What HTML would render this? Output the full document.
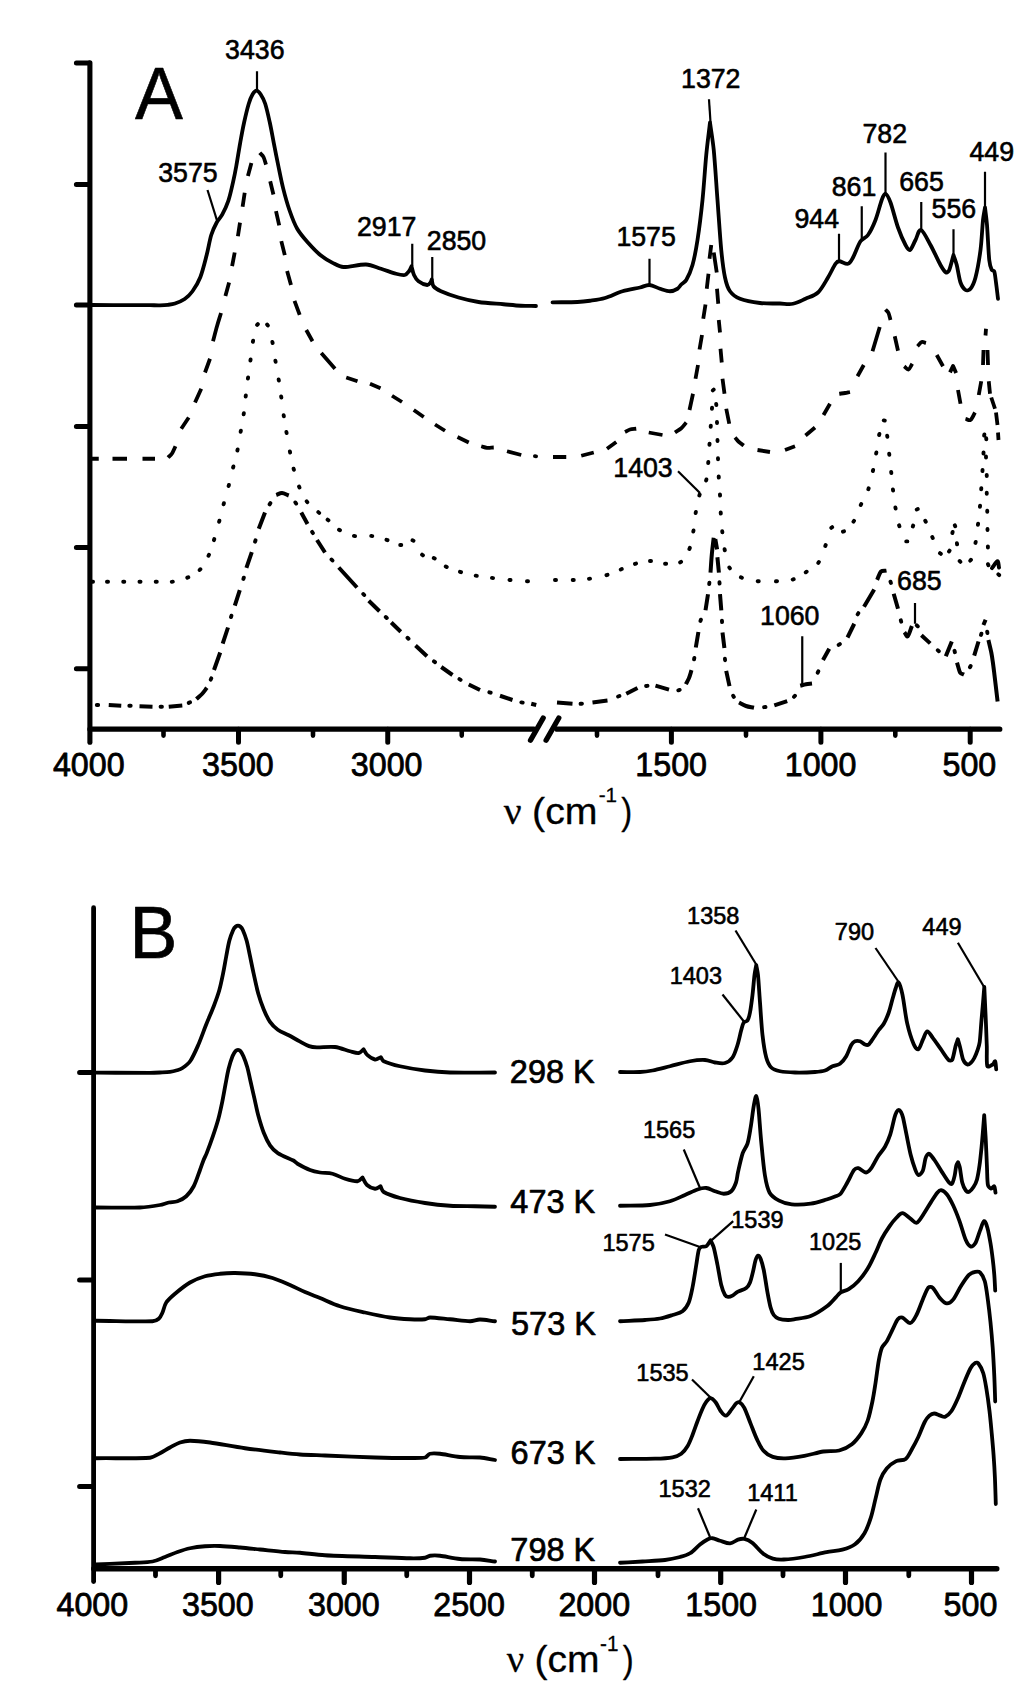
<!DOCTYPE html>
<html lang="en">
<head>
<meta charset="utf-8">
<title>IR spectra</title>
<style>
html,body{margin:0;padding:0;background:#fff}
svg{display:block}
text{font-family:"Liberation Sans", sans-serif;fill:#000;stroke:#000;stroke-width:0.0;stroke-linejoin:round}
.nu{font-family:"Liberation Serif", serif}
.ax{stroke:#000;fill:none;stroke-linecap:round}
.cv{stroke:#000;fill:none;stroke-linecap:round;stroke-linejoin:round}
.ld{stroke:#000;fill:none;stroke-linecap:butt}
</style>
</head>
<body>
<svg width="1024" height="1688" viewBox="0 0 1024 1688" role="img" aria-label="IR spectra, panels A and B">
<rect width="1024" height="1688" fill="#fff"/>
<g id="axes">
<path class="ax" stroke-width="5.1" d="M89.9 62.7V742.3"/>
<path class="ax" stroke-width="5.0" d="M76.4 62.9H89M76.4 184.4H89M76.4 305H89M76.4 426.6H89M76.4 547.5H89M76.4 668.75H89"/>
<path class="ax" stroke-width="5.2" d="M89.9 729.2H534M557 729.2H999.8"/>
<path class="ax" stroke-width="5.0" d="M238.5 729.3V742.3M387.75 729.3V742.3M671.4 729.3V742.3M820.9 729.3V742.3M970.2 729.3V742.3"/>
<path class="ax" stroke-width="4.6" d="M163.5 729.3V735.6M313 729.3V735.6M461.75 729.3V735.6M597 729.3V735.6M746 729.3V735.6M895.3 729.3V735.6"/>
<path class="ax" stroke-width="5.3" d="M530.5 740.2L543.2 718M546.1 740.2L558.8 718"/>
<path class="ax" stroke-width="4.8" d="M93.6 907.7V1581.6"/>
<path class="ax" stroke-width="5.0" d="M79.6 1072.6H93M79.6 1280H93M79.6 1486.5H93"/>
<path class="ax" stroke-width="5.4" d="M93.75 1568.8H996.8"/>
<path class="ax" stroke-width="5.2" d="M218.6 1568.9V1582.4M344.25 1568.9V1582.4M469.5 1568.9V1582.4M594.5 1568.9V1582.4M720.7 1568.9V1582.4M845.5 1568.9V1582.4M971.5 1568.9V1582.4"/>
<path class="ax" stroke-width="4.8" d="M155.5 1568.9V1575.8M280.75 1568.9V1575.8M406.75 1568.9V1575.8M532.25 1568.9V1575.8M658 1568.9V1575.8M783 1568.9V1575.8M908.8 1568.9V1575.8"/>
</g>
<g id="curves">
<path id="A1L" class="cv" stroke-width="3.8" d="M92 305C111.33 305.07 138.67 305.15 150 305.2C153.33 305.21 157 305.37 160 305.3C162.67 305.24 165.5 305.1 168 304.8C170.36 304.52 172.76 304.28 175 303.5C177.78 302.53 181.78 301.04 184.7 299C187.62 296.96 190.37 294.23 192.5 291.25C195.1 287.62 198.34 282.19 200.3 277.2C202.65 271.21 204.78 262.33 206.6 255.3C208.34 248.58 209.57 240.47 211.25 235C212.59 230.66 214.88 225.88 216.7 222.5C218.21 219.7 220.7 217.51 222.2 214.7C224.15 211.05 226.78 205.47 228.4 200.6C230.22 195.13 231.79 187.62 233.1 181.9C234.29 176.71 235.3 171.49 236.25 166.25C237.43 159.73 238.89 150.09 240.2 142.8C241.42 136.02 242.67 129.01 244.1 122.5C245.48 116.21 247.35 108.42 248.75 103.75C249.71 100.56 251.19 96.69 252.5 94.5C253.47 92.88 255.25 90.63 256.6 90.6C257.95 90.57 259.61 92.78 260.6 94.3C262.03 96.49 264.11 100.42 265.2 103.75C266.73 108.45 268.42 116.21 269.8 122.5C271.23 129.01 272.42 136.04 273.75 142.8C275.18 150.09 276.84 158.7 278.4 166.25C279.91 173.55 281.28 180.87 283.1 188.1C284.93 195.39 287.05 203.22 289.4 210C291.62 216.4 294.08 223.28 297.2 228.75C300.14 233.9 304.2 238.38 308.1 242.8C312 247.22 316.43 251.92 320.6 255.3C324.41 258.4 329.28 261.15 333.1 263.1C336.4 264.78 339.8 266.84 343.5 267C348.98 267.23 359.75 264.21 366 264.5C371.19 264.74 376.03 267.22 381 268.75C386 270.29 392.04 272.71 396 273.75C398.85 274.5 402.58 275.42 404.75 275C406.61 274.64 407.88 272.71 409 271.25C410.12 269.79 410.67 267.92 411.5 266.25C412.33 269.17 412.83 272.5 414 275C415.09 277.33 416.45 279.7 418.5 281.25C420.71 282.92 425.25 284.79 427.25 285C428.61 285.14 429.75 283.42 430.5 282.5C431.19 281.66 431.33 280.5 431.75 279.5C432.33 281.75 432.06 284.42 433.5 286.25C435.04 288.21 438.26 290.02 441 291.25C445.17 293.12 452.55 295.79 458.5 297.5C464.75 299.29 471.74 300.99 478.5 302C486 303.12 496.42 303.62 503.5 304.25C509.33 304.76 515.58 305.46 521 305.75C525.99 306.02 531 305.92 536 306"/>
<path id="A1R" class="cv" stroke-width="3.8" d="M552.5 302.3C560.83 302.2 571.25 302.26 577.5 302C581.68 301.83 585.86 301.35 590 300.75C594.58 300.08 600.12 299.43 605 298C610.42 296.42 616.67 293 622.5 291.25C628.21 289.54 635.5 288.54 640 287.5C643.19 286.76 646.23 284.8 649.5 285C652.83 285.21 656.58 287.71 660 288.75C663.29 289.75 667.08 291.25 670 291.25C672.64 291.25 675.62 289.88 677.5 288.75C679.12 287.78 679.91 285.84 681.25 284.5C682.71 283.04 685.13 281.94 686.25 280C688.12 276.75 691.03 270.21 692.5 265C694.38 258.33 696.21 248.4 697.5 240C699.17 229.17 701.12 213.37 702.5 200C703.96 185.83 705 167.92 706.25 155C707.3 144.15 708.75 133.33 710 122.5C711.25 131.67 712.86 140.79 713.75 150C715 162.92 716.25 183.33 717.5 200C718.75 216.67 720 237.08 721.25 250C722.14 259.21 723.54 270.62 725 277.5C726.01 282.27 727.5 287.71 730 291.25C732.4 294.65 736.12 297.23 740 298.75C745 300.71 753.33 302.21 760 303C766.62 303.79 774.5 303.38 780 303.5C784.33 303.6 788.75 304.54 793 303.75C797.25 302.96 801.41 300.59 805.5 298.75C809.67 296.88 814.61 295.7 818 292.5C821.75 288.96 825.08 282.29 828 277.5C830.71 273.04 833.62 266.46 835.5 263.75C836.36 262.51 837.75 261.25 839.25 261.25C841.33 261.25 845.71 264.38 848 263.75C850.29 263.12 851.7 259.83 853 257.5C855.08 253.75 858 245 860.5 241.25C862.31 238.54 866.12 237.66 868 235C870.5 231.46 873.46 225.2 875.5 220C877.79 214.17 880.08 204.38 881.75 200C882.61 197.73 884.04 193.33 885.5 193.75C886.96 194.17 889.33 199.35 890.5 202.5C892.58 208.12 895.5 220.42 898 227.5C900.11 233.48 903.5 241.25 905.5 245C906.56 246.98 908.33 250.83 910 250C911.67 249.17 913.67 243.33 915.5 240C917.33 236.67 918.5 229.17 921 230C923.5 230.83 927.62 239.83 930.5 245C933.75 250.83 937.92 260.42 940.5 265C942.02 267.7 944.54 271.67 946 272.5C947.19 273.18 948.71 271.26 949.25 270C950.5 267.08 952.08 260 953.5 255C954.58 258.33 955.89 261.6 956.75 265C957.92 269.58 959.04 278.33 960.5 282.5C961.49 285.34 963.83 288.96 965.5 290C966.96 290.91 969.43 290.09 970.5 288.75C972.17 286.67 974.47 281.47 975.5 277.5C977.17 271.04 979.29 259.24 980.5 250C981.75 240.42 982.25 227.08 983 220C983.44 215.8 984.33 211.67 985 207.5C985.67 213.33 986.53 219.15 987 225C987.71 233.75 988.46 252.5 989.25 260C989.61 263.42 990.92 268.12 991.75 270C992.13 270.85 993.95 270.37 994.25 271.25C994.96 273.33 995.49 278.74 996 282.5C996.62 287.08 997.33 293.33 998 298.75"/>
<path id="B1L" class="cv" stroke-width="3.8" d="M96 1072.7C114 1072.73 139.33 1072.83 150 1072.8C153.33 1072.79 156.67 1072.65 160 1072.5C163.33 1072.35 167.17 1072.27 170 1071.9C172.37 1071.59 174.92 1070.95 177 1070.3C178.9 1069.71 180.87 1069.14 182.5 1068C184.72 1066.45 188.32 1063.88 190.3 1061C192.9 1057.22 195.76 1050.66 198.1 1045.3C200.72 1039.3 203.39 1031.51 206 1025C208.52 1018.72 211.55 1011.98 213.75 1006.25C215.73 1001.09 217.69 995.91 219.2 990.6C220.76 985.12 221.92 979.12 223.1 973.4C224.27 967.71 225.2 961.72 226.25 956.25C227.25 951.02 228.22 945.02 229.4 940.6C230.39 936.87 232.23 932.05 233.3 929.7C233.86 928.47 235.02 927.18 235.8 926.5C236.4 925.98 237.27 925.6 238 925.6C238.73 925.6 239.6 925.98 240.2 926.5C240.98 927.18 242.14 928.47 242.7 929.7C243.77 932.05 245.56 936.88 246.6 940.6C247.77 944.77 248.7 949.99 249.7 954.7C250.87 960.17 252.23 967.18 253.6 973.4C255.03 979.91 256.61 987.75 258.3 993.75C259.8 999.07 261.8 1004.71 263.75 1009.4C265.54 1013.7 267.66 1018.52 270 1021.9C272.09 1024.92 274.8 1027.57 277.8 1029.7C280.93 1031.92 285.15 1033.28 288.75 1035.2C292.4 1037.15 296.32 1039.58 299.7 1041.4C302.76 1043.05 306.13 1045.12 309 1046.1C311.52 1046.96 314.24 1047.21 316.9 1047.3C321.23 1047.45 329.48 1046.34 335 1047C340.16 1047.62 346.04 1050.25 350 1051.25C352.88 1051.98 356.48 1053.33 358.75 1053C360.76 1052.71 361.98 1050.53 363.6 1049.3C364.9 1051.27 365.74 1053.63 367.5 1055.2C369.4 1056.9 372.78 1059.17 375 1059.5C377.06 1059.81 378.87 1057.97 380.8 1057.2C381.78 1058.55 382.24 1060.54 383.75 1061.25C386.95 1062.76 394.47 1065.01 400 1066.25C406.88 1067.79 416.67 1069.46 425 1070.5C433.3 1071.54 441.64 1072.26 450 1072.5C461.67 1072.83 480 1072.5 495 1072.5"/>
<path id="B1R" class="cv" stroke-width="3.8" d="M620 1072C626.67 1072 634.58 1072.25 640 1072C644.19 1071.81 648.38 1071.29 652.5 1070.5C657.5 1069.54 664.17 1067.69 670 1066.25C676.25 1064.71 684.17 1062.29 690 1061.25C694.94 1060.37 700.83 1059.79 705 1060C708.43 1060.17 711.67 1062 715 1062.5C718.3 1063 722.08 1063.83 725 1063C727.92 1062.17 730.73 1060.05 732.5 1057.5C734.58 1054.5 736.14 1049.28 737.5 1045C738.96 1040.42 740.21 1033.75 741.25 1030C741.96 1027.46 742.71 1024.08 743.75 1022.5C744.53 1021.32 746.75 1021.7 747.5 1020.5C748.54 1018.83 749.46 1015.24 750 1012.5C750.83 1008.25 751.8 1000.85 752.5 995C753.25 988.75 753.88 980 754.5 975C754.92 971.64 755.67 968.33 756.25 965C756.83 968.33 757.66 971.63 758 975C758.62 981.25 759.31 993.33 760 1002.5C760.75 1012.5 761.46 1025.83 762.5 1035C763.36 1042.55 764.79 1052.08 766.25 1057.5C767.22 1061.1 768.96 1065.21 771.25 1067.5C773.49 1069.74 776.89 1070.6 780 1071.25C783.96 1072.08 789.98 1072.39 795 1072.5C800.83 1072.62 810 1072.33 815 1072C818.36 1071.78 822.08 1071.46 825 1070.5C827.73 1069.6 830 1067.38 832.5 1066.25C834.9 1065.17 837.87 1065.3 840 1063.75C842.29 1062.08 844.58 1059.04 846.25 1056.25C848.12 1053.12 849.79 1047.5 851.25 1045C852.14 1043.47 853.54 1041.88 855 1041.25C856.46 1040.62 858.41 1040.73 860 1041.25C861.67 1041.79 863.54 1043.96 865 1044.5C866.17 1044.94 867.77 1045.28 868.75 1044.5C870.21 1043.33 872.12 1039.86 873.75 1037.5C875.42 1035.08 877.08 1032.29 878.75 1030C880.32 1027.84 882.43 1026.07 883.75 1023.75C885.42 1020.83 887.38 1016.37 888.75 1012.5C890.21 1008.38 891.33 1003.08 892.5 999C893.56 995.32 894.78 990.75 895.8 988C896.51 986.07 897.48 981.35 898.6 982.5C899.72 983.65 901.61 990.66 902.5 994.9C903.93 1001.72 905.35 1015.22 907.2 1023.4C908.79 1030.41 911.75 1039.68 913.6 1044C914.53 1046.17 916.72 1050.1 918.3 1049.3C919.88 1048.5 921.62 1042.2 923.1 1039.2C924.41 1036.54 925.62 1031.57 927.2 1031.3C928.78 1031.03 930.92 1035.4 932.6 1037.6C934.82 1040.5 937.87 1045 940.5 1048.7C943.13 1052.4 946.45 1057.95 948.4 1059.8C949.32 1060.67 951.62 1060.93 952.2 1059.8C953.42 1057.42 954.75 1048.93 955.7 1045.5C956.29 1043.36 957.17 1041.3 957.9 1039.2C958.63 1041.83 959.42 1044.45 960.1 1047.1C960.98 1050.53 961.98 1056.9 963.2 1059.8C964.01 1061.74 966.1 1064.03 967.4 1064.5C968.68 1064.96 970.01 1063.53 971 1062.6C972.15 1061.52 973.44 1059.68 974.3 1058C975.43 1055.78 976.9 1051.97 977.8 1049.3C978.6 1046.92 979.38 1044.49 979.7 1042C980.32 1037.12 980.95 1026.5 981.5 1020C981.98 1014.33 982.53 1008.5 983 1003C983.45 997.67 983.87 992.33 984.3 987C984.8 998.07 985.38 1010.37 985.8 1020.2C986.16 1028.8 986.55 1038.35 986.8 1046C987.02 1052.7 986.32 1063.02 987.3 1066.1C987.87 1067.89 991.38 1065.28 992.7 1064.5C993.84 1063.82 994.62 1060.6 995.2 1061.4C995.78 1062.2 995.87 1066.67 996.2 1069.3"/>
<path id="B2L" class="cv" stroke-width="3.8" d="M96 1207.5C110.67 1207.5 129.33 1207.92 140 1207.5C146.71 1207.24 155.21 1205.83 160 1205C162.99 1204.48 165.83 1203.12 168.75 1202.5C171.63 1201.88 174.73 1202.24 177.5 1201.25C180.42 1200.21 183.78 1198.53 186.25 1196.25C188.96 1193.75 191.82 1189.94 193.75 1186.25C196.04 1181.88 198.36 1174.38 200 1170C201.24 1166.68 202.48 1162.82 203.6 1160C204.53 1157.66 205.78 1155.45 206.7 1153.1C208.27 1149.08 211.05 1141.62 213 1135.9C214.93 1130.23 216.85 1124.47 218.4 1118.75C219.93 1113.09 221.12 1107.32 222.3 1101.6C223.48 1095.89 224.45 1089.88 225.5 1084.4C226.5 1079.18 227.43 1073.44 228.6 1068.75C229.65 1064.51 231.33 1059.21 232.5 1056.25C233.25 1054.36 234.68 1052.08 235.6 1051C236.18 1050.32 237.2 1049.8 238 1049.8C238.8 1049.8 239.83 1050.31 240.4 1051C241.3 1052.08 242.61 1054.4 243.4 1056.25C244.55 1058.95 246.24 1063.47 247.3 1067.2C248.48 1071.37 249.43 1076.57 250.5 1081.25C251.68 1086.45 253.1 1092.68 254.4 1098.4C255.7 1104.12 256.76 1109.93 258.3 1115.6C259.86 1121.33 261.8 1127.85 263.75 1132.8C265.46 1137.13 267.66 1141.92 270 1145.3C272.09 1148.32 274.72 1151.1 277.8 1153.1C281.7 1155.63 290.12 1158.72 293.4 1160.5C294.93 1161.33 295.99 1162.88 297.5 1163.75C300.27 1165.33 306.25 1168.54 310 1170C313.2 1171.25 316.61 1171.94 320 1172.5C323.75 1173.12 328.44 1172.73 332.5 1173.75C336.67 1174.79 340.83 1177.5 345 1178.75C349.07 1179.97 354.58 1181.46 357.5 1181.25C359.58 1181.1 360.83 1178.75 362.5 1177.5C364 1180 364.92 1183.12 367 1185C369.08 1186.88 372.75 1188.54 375 1188.75C377.01 1188.94 378.67 1187.08 380.5 1186.25C381.58 1188.17 381.86 1190.86 383.75 1192C387 1193.96 394.42 1196.51 400 1198C406.88 1199.83 416.67 1201.71 425 1203C433.28 1204.28 441.67 1205.21 450 1205.75C458.32 1206.29 467.5 1206.08 475 1206.25C481.67 1206.4 488.33 1206.58 495 1206.75"/>
<path id="B2R" class="cv" stroke-width="3.8" d="M620 1205.75C630 1205.5 641.67 1205.75 650 1205C656.76 1204.39 664.17 1202.92 670 1201.25C675.21 1199.76 680.42 1196.96 685 1195C689.19 1193.21 693.96 1190.67 697.5 1189.5C700.31 1188.57 703.33 1187.71 706.25 1188C709.17 1188.29 712.08 1190.29 715 1191.25C717.88 1192.2 721.04 1193.75 723.75 1193.75C726.39 1193.75 729.31 1193.03 731.25 1191.25C733.29 1189.38 734.9 1185.63 736 1182.5C737.12 1179.31 737.22 1175.54 738 1172.1C739.12 1167.2 741.12 1157.85 742.7 1153.1C743.82 1149.73 746.44 1146.99 747.5 1143.6C748.82 1139.38 749.72 1133.09 750.6 1127.8C751.65 1121.48 752.85 1111 753.8 1105.7C754.39 1102.41 755.52 1095.48 756.3 1096C757.08 1096.52 758.04 1104.5 758.5 1108.8C759.3 1116.22 760.08 1129.95 761.1 1140.5C762.17 1151.58 763.48 1166.6 764.9 1175.3C765.87 1181.23 767.23 1188.48 769.6 1192.7C771.62 1196.29 775.46 1198.68 779.1 1200.6C782.8 1202.55 787.4 1203.97 791.8 1204.4C797.07 1204.92 804.9 1204.52 810.7 1203.7C816.13 1202.94 822.55 1200.7 826.6 1199.5C829.45 1198.66 832.72 1197.42 835 1196.5C836.81 1195.77 839 1195.46 840.3 1194C842.33 1191.72 845.02 1186.61 847.2 1182.8C849.5 1178.78 852.23 1172.33 854.1 1169.9C855.04 1168.68 856.89 1167.87 858.4 1168.2C860.4 1168.63 863.95 1172.5 866.1 1172.5C868.25 1172.5 869.97 1170.01 871.3 1168.2C873.3 1165.48 875.82 1159.78 878.1 1156.2C880.2 1152.9 883.08 1150.11 885 1146.7C887.02 1143.12 888.85 1138.85 890.2 1134.7C891.78 1129.83 893.43 1121.32 894.5 1117.5C895.05 1115.55 895.89 1113.08 896.6 1111.8C897.07 1110.94 898.03 1109.8 898.75 1109.8C899.47 1109.8 900.43 1110.94 900.9 1111.8C901.61 1113.08 902.52 1115.53 903 1117.5C903.93 1121.32 905.32 1128.97 906.5 1134.7C907.8 1141 909.37 1149.57 910.8 1155.3C911.97 1159.97 913.82 1165.8 915.1 1169.1C915.93 1171.24 917.22 1174.82 918.5 1175.1C919.78 1175.38 922.01 1172.67 922.8 1170.8C923.95 1168.08 924.67 1161.4 925.4 1158.75C925.78 1157.38 926.55 1155.71 927.2 1154.9C927.69 1154.3 928.68 1153.44 929.3 1153.9C930.57 1154.83 933.16 1158.15 934.8 1160.5C936.87 1163.45 939.4 1168.02 941.7 1171.6C943.95 1175.1 946.88 1179.98 948.6 1182C949.42 1182.96 951.11 1184.6 952 1183.7C953 1182.68 953.97 1178.57 954.6 1175.9C955.32 1172.88 955.72 1167.88 956.3 1165.6C956.61 1164.36 957.47 1163.33 958.05 1162.2C958.63 1163.9 959.44 1165.54 959.8 1167.3C960.51 1170.73 961.3 1178.93 962.3 1182.8C963.01 1185.53 964.65 1189.01 965.8 1190.5C966.54 1191.46 968.1 1192.24 969.2 1191.75C970.48 1191.18 972.37 1188.88 973.5 1187.1C974.8 1185.04 976.24 1182.12 977 1179.4C978 1175.82 978.85 1170.23 979.5 1165.6C980.27 1160.15 981.02 1152.55 981.6 1146.7C982.14 1141.31 982.57 1135.75 983 1130.5C983.42 1125.4 983.8 1120.3 984.2 1115.2C984.73 1123.63 985.35 1132.06 985.8 1140.5C986.27 1149.3 986.65 1160.62 987 1168C987.27 1173.6 987.22 1181.37 987.9 1184.8C988.22 1186.42 990.03 1188.35 991.1 1188.6C992.17 1188.85 993.57 1185.62 994.3 1186.3C995.03 1186.98 995.1 1190.57 995.5 1192.7"/>
<path id="B3L" class="cv" stroke-width="3.8" d="M96 1320.75C114.83 1320.92 142.04 1321.58 152.5 1321.25C154.74 1321.18 157.08 1320.21 158.75 1318.75C160.42 1317.29 161.48 1314.71 162.5 1312.5C163.75 1309.79 164.28 1305.46 166.25 1302.5C168.33 1299.38 171.84 1296.41 175 1293.75C178.96 1290.42 185 1285.42 190 1282.5C194.68 1279.77 200 1277.71 205 1276.25C209.87 1274.83 215 1274.29 220 1273.75C224.98 1273.21 229.99 1272.93 235 1273C240.83 1273.08 248.75 1273.42 255 1274.25C260.91 1275.04 266.8 1276.25 272.5 1278C278.33 1279.79 284.58 1282.67 290 1285C295.07 1287.18 300 1289.83 305 1292C309.94 1294.14 315.01 1295.97 320 1298C325.83 1300.38 333.14 1304.04 340 1306.25C347.5 1308.67 356.67 1310.62 365 1312.5C373.29 1314.37 382.5 1316.38 390 1317.5C396.62 1318.49 404.17 1318.96 410 1319.25C414.99 1319.5 421.67 1319.54 425 1319.25C426.76 1319.1 428.23 1317.5 430 1317.5C434.17 1317.5 443.34 1318.63 450 1319.25C456.67 1319.88 465 1321.21 470 1321.25C473.38 1321.28 476.62 1319.5 480 1319.5C484.17 1319.5 490 1320.67 495 1321.25"/>
<path id="B3R" class="cv" stroke-width="3.8" d="M620 1321.25C628.33 1320.83 638.33 1320.46 645 1320C650.01 1319.66 655.42 1319.33 660 1318.5C664.26 1317.73 668.75 1316.21 672.5 1315C675.89 1313.91 679.79 1313.33 682.5 1311.25C685.21 1309.17 687.36 1305.8 688.75 1302.5C690.42 1298.54 691.49 1292.55 692.5 1287.5C693.75 1281.25 695.21 1271.25 696.25 1265C697.08 1260 697.92 1253.02 698.75 1250C699.1 1248.72 700.06 1247.49 701.25 1246.9C702.5 1246.28 704.88 1247.22 706.25 1246.25C707.81 1245.15 709.15 1242.28 710.6 1240.3C711.65 1242.7 713.05 1244.98 713.75 1247.5C714.9 1251.62 716.33 1259.15 717.5 1265C718.75 1271.25 720 1280 721.25 1285C722.11 1288.45 723.86 1293.02 725 1295C725.6 1296.05 726.89 1296.8 728.1 1296.9C729.35 1297 731.15 1296.32 732.5 1295.6C734.07 1294.77 735.68 1292.89 737.5 1291.9C739.79 1290.65 744.17 1289.67 746.25 1288.1C748.05 1286.75 749.15 1284.58 750 1282.5C751.14 1279.69 752.17 1275 753.1 1271.25C754.03 1267.52 754.77 1262.61 755.6 1260C756.11 1258.39 757.27 1255.81 758.1 1255.6C758.93 1255.39 760.11 1257.5 760.6 1258.75C761.54 1261.15 762.97 1266.18 763.75 1270C764.9 1275.62 766.36 1286.25 767.5 1292.5C768.42 1297.52 769.56 1303.75 770.6 1307.5C771.33 1310.11 772.39 1313.12 773.75 1315C774.97 1316.69 776.78 1318.06 778.75 1318.75C781.12 1319.58 785.31 1319.92 788 1320C790.31 1320.06 792.62 1319.59 794.9 1319.2C798.68 1318.55 805.71 1318.08 810.7 1316.1C815.98 1314 822.37 1309.77 826.6 1306.6C830.19 1303.92 833.73 1299.48 836.1 1297.1C837.68 1295.51 838.9 1293.49 840.8 1292.3C842.9 1290.98 846.32 1290.72 848.7 1289.2C851.6 1287.35 855.39 1284.24 858.2 1281.2C861.37 1277.77 864.95 1273.09 867.7 1268.6C870.6 1263.87 873.23 1257.82 875.6 1252.8C877.82 1248.09 879.53 1242.98 881.9 1238.5C884.21 1234.12 887.42 1229.32 889.8 1225.9C891.74 1223.12 894.08 1220.12 896.2 1218C898.07 1216.13 900.13 1213.1 902.5 1213.2C904.87 1213.3 908.03 1217.02 910.4 1218.6C912.48 1219.99 914.58 1223.33 916.7 1222.7C918.82 1222.07 921.17 1217.58 923.1 1214.8C925.48 1211.37 928.63 1205.78 931 1202.1C933.04 1198.93 935.62 1194.7 937.3 1192.7C938.29 1191.53 939.58 1189.86 941.1 1190.1C942.68 1190.35 945.35 1192.36 946.8 1194.2C948.8 1196.73 951.28 1201.45 953.1 1205.3C955.22 1209.78 957.55 1215.76 959.5 1221.1C961.62 1226.9 963.97 1235.88 965.8 1240.1C966.84 1242.5 968.92 1245.87 970.5 1246.4C972.08 1246.93 974.32 1244.93 975.3 1243.3C976.88 1240.67 978.53 1234.3 980 1230.6C981.27 1227.39 982.88 1221.62 984.1 1221.1C985.32 1220.58 986.64 1225.21 987.3 1227.5C988.37 1231.2 989.6 1238.03 990.5 1243.3C991.4 1248.54 992.07 1253.83 992.7 1259.1C993.33 1264.36 993.88 1269.63 994.3 1274.9C994.72 1280.16 994.9 1285.43 995.2 1290.7"/>
<path id="B4L" class="cv" stroke-width="3.8" d="M96 1458.25C114 1458.08 139.33 1458.58 150 1457.75C153.64 1457.47 156.75 1454.92 160 1453.25C163.33 1451.54 166.67 1449.29 170 1447.5C173.28 1445.74 176.67 1443.62 180 1442.5C183.21 1441.42 186.62 1440.75 190 1440.75C195 1440.75 203.37 1441.6 210 1442.5C219.17 1443.75 233.33 1446.58 245 1448.25C256.63 1449.91 270.83 1451.46 280 1452.5C286.66 1453.26 293.31 1454.05 300 1454.5C307.5 1455 316.67 1455.17 325 1455.5C337.5 1456 360.83 1457.08 375 1457.5C386.66 1457.84 401.67 1458 410 1458C415 1458 421.67 1458.21 425 1457.5C427.04 1457.07 427.98 1454.26 430 1453.75C432.5 1453.12 436.69 1453.39 440 1453.75C445 1454.29 453.33 1456.38 460 1457C466.64 1457.62 474.17 1457 480 1457.5C485.05 1457.93 490 1459.17 495 1460"/>
<path id="B4R" class="cv" stroke-width="3.8" d="M620 1459C631.67 1458.9 646.25 1458.98 655 1458.7C660.85 1458.51 668.12 1458.12 672.5 1457.3C675.59 1456.72 678.75 1455.59 681.25 1453.75C683.75 1451.91 685.83 1449.04 687.5 1446.25C689.38 1443.12 690.98 1438.81 692.5 1435C694.17 1430.83 695.83 1425.62 697.5 1421.25C699.1 1417.06 701.04 1411.97 702.5 1408.75C703.57 1406.38 704.9 1403.68 706.25 1401.9C707.42 1400.37 709.01 1398 710.6 1398.1C712.19 1398.2 714.41 1400.71 715.8 1402.5C717.47 1404.65 718.92 1408.8 720.6 1411C722.03 1412.88 724.07 1415.97 725.9 1415.7C727.73 1415.43 729.85 1411.5 731.6 1409.4C733.29 1407.37 735.07 1404.27 736.4 1403.1C737.22 1402.38 738.66 1401.84 739.6 1402.4C740.92 1403.18 743.2 1405.68 744.3 1407.8C746.13 1411.33 748.49 1418.34 750.6 1423.6C752.72 1428.87 754.88 1434.92 757 1439.4C758.82 1443.25 760.67 1447.58 763.3 1450.5C765.86 1453.33 769.2 1455.61 772.8 1456.9C776.48 1458.22 781.17 1458.53 785.4 1458.4C790.67 1458.23 798.11 1457.04 804.4 1455.9C810.73 1454.75 817.6 1452.4 823.4 1451.5C828.61 1450.69 834.45 1451.72 839.2 1450.5C843.78 1449.33 848.2 1447.1 851.9 1444.2C855.6 1441.3 858.77 1437.05 861.4 1433.1C864 1429.19 866.16 1424.93 867.7 1420.5C869.53 1415.23 871.08 1407.83 872.4 1401.5C873.71 1395.21 874.61 1388.85 875.6 1382.5C876.67 1375.65 877.75 1366.2 878.8 1360.4C879.58 1356.11 880.58 1350.87 881.9 1347.7C882.91 1345.26 885.37 1343.68 886.7 1341.4C888.55 1338.23 891.15 1332.4 893 1328.7C894.59 1325.53 896.22 1321.05 897.8 1319.2C898.88 1317.94 900.92 1317.12 902.5 1317.6C904.6 1318.23 908.03 1323.52 910.4 1323C912.77 1322.48 915.07 1317.63 916.7 1314.5C918.82 1310.45 921.15 1303.18 923.1 1298.7C924.74 1294.94 926.82 1289.45 928.4 1287.6C929.31 1286.54 931.57 1286.65 932.6 1287.6C934.62 1289.45 938.13 1296.07 940.5 1298.7C942.25 1300.65 944.7 1303.25 946.8 1303.4C948.9 1303.55 951.55 1301.5 953.1 1299.6C955.47 1296.7 958.37 1290.12 961 1286C963.45 1282.17 966.52 1277.27 968.9 1274.9C970.58 1273.23 973.45 1272.22 975.3 1271.8C976.84 1271.45 978.88 1271.29 980 1272.4C981.58 1273.97 983.89 1277.99 984.8 1281.2C986.12 1285.83 987.02 1293.84 987.9 1300.2C988.85 1307.07 989.75 1314.99 990.5 1322.4C991.3 1330.32 992.1 1339.26 992.7 1347.7C993.33 1356.67 993.88 1367.23 994.3 1376.2C994.69 1384.63 994.9 1393.07 995.2 1401.5"/>
<path id="B5L" class="cv" stroke-width="3.8" d="M96 1564.5C109 1563.92 125.58 1563.25 135 1562.75C140.84 1562.44 147.5 1562.46 152.5 1561.5C156.85 1560.67 160.86 1558.57 165 1557C169.17 1555.42 173.33 1553.46 177.5 1552C181.61 1550.56 185.74 1549.14 190 1548.25C194.58 1547.29 200 1546.62 205 1546.25C209.99 1545.88 215 1545.82 220 1546C225.83 1546.21 233.34 1546.92 240 1547.5C246.67 1548.08 253.33 1548.83 260 1549.5C267.5 1550.25 278.33 1551.46 285 1552C289.99 1552.41 295.01 1552.34 300 1552.75C306.67 1553.29 316.64 1554.78 325 1555.25C337.5 1555.96 360.83 1556.5 375 1557C386.67 1557.41 401.67 1558.12 410 1558.25C415 1558.33 421.67 1558.17 425 1557.75C426.78 1557.53 428.22 1555.99 430 1555.75C432.5 1555.42 436.69 1555.39 440 1555.75C445 1556.29 453.33 1558.38 460 1559C466.64 1559.62 474.17 1559.08 480 1559.5C485.03 1559.86 490 1560.83 495 1561.5"/>
<path id="B5R" class="cv" stroke-width="3.8" d="M620 1562.75C627.5 1562.33 635 1561.96 642.5 1561.5C650 1561.04 658.75 1560.75 665 1560C670.06 1559.39 675.83 1558.12 680 1557C683.44 1556.07 686.98 1555.14 690 1553.25C693.33 1551.17 697.08 1546.79 700 1544.5C702.36 1542.64 705.42 1540.54 707.5 1539.5C709.04 1538.73 710.79 1538.08 712.5 1538.25C714.58 1538.46 717.47 1540.01 720 1540.75C722.93 1541.61 727.1 1543.59 730.1 1543.4C733.02 1543.21 735.63 1540.35 738 1539.6C740.01 1538.96 742.24 1538.45 744.3 1538.9C746.67 1539.42 749.9 1540.9 752.2 1542.7C755.37 1545.18 759.87 1551.15 763.3 1553.8C766.11 1555.97 769.38 1557.65 772.8 1558.6C776.22 1559.55 780.13 1559.69 783.8 1559.5C789.07 1559.23 797.58 1558.16 804.4 1557C811.53 1555.78 820.27 1553.42 826.6 1552.2C831.84 1551.19 837.67 1551.02 842.4 1549.7C846.8 1548.48 851.34 1547.03 855 1544.3C858.68 1541.55 862.02 1537.39 864.5 1533.2C867.15 1528.72 869.17 1522.81 870.9 1517.4C872.75 1511.6 874.02 1504.72 875.6 1498.4C877.18 1492.1 878.55 1484.5 880.4 1479.5C881.88 1475.51 884.07 1471.47 886.7 1468.4C889.3 1465.37 893.03 1462.68 896.2 1461.1C899.11 1459.65 903.12 1460.88 905.7 1458.9C908.33 1456.88 910.05 1452.39 912 1449C914.1 1445.35 916.38 1441.09 918.3 1437C920.42 1432.5 922.85 1425.55 924.7 1422C925.91 1419.68 927.83 1417.12 929.4 1415.7C930.68 1414.54 932.37 1413.5 934.1 1413.5C935.95 1413.5 938.65 1415.17 940.5 1415.7C942.04 1416.14 943.73 1417.33 945.2 1416.7C947.03 1415.92 949.89 1413.33 951.5 1411C953.62 1407.93 955.97 1402.63 957.9 1398.3C960.02 1393.55 962.1 1387.5 964.2 1382.5C966.21 1377.73 968.65 1371.57 970.5 1368.3C971.69 1366.2 973.98 1363.7 975.3 1362.9C976.2 1362.35 977.75 1362.67 978.4 1363.5C979.72 1365.18 982.13 1369.62 983.2 1373C984.53 1377.22 985.52 1383.5 986.4 1388.8C987.45 1395.13 988.62 1403.62 989.5 1411C990.38 1418.35 991.02 1425.73 991.7 1433.1C992.38 1440.48 993.07 1447.92 993.6 1455.3C994.13 1462.66 994.57 1470.03 994.9 1477.4C995.27 1485.52 995.5 1495.13 995.8 1504"/>
<path id="A2" class="cv" style="stroke-linecap:butt" stroke-width="3.8" d="M92 458.75L98.75 458.75M112.5 458.75L127 458.75M142.5 458.75L155 458.75M168 457.5C169.33 456.17 170.95 455.07 172 453.5C173.25 451.62 174.33 448.67 175.5 446.25M181.25 428.75L188.75 417.5M195 402.5L201.25 388.75M205 372.5L210 358.75M213 341.25C214.33 336.25 215.67 330.96 217 326.25C218.26 321.81 219.67 317.42 221 313M225.4 296.1L229.1 282.4M232.1 266.2L234.7 252.5M237.9 236.3L240 222.6M242.6 206.8L244.7 192.7M247.9 176L251.4 162.9M259.8 152.7C261.03 154.13 262.63 155.32 263.5 157C264.53 158.98 265.17 162.07 266 164.6M270.2 181.3L273.4 194.5M276 211.2L279.2 225.3M281.3 241.1L284.8 255.1M287.1 271L291 285M294.5 300.8L299.7 314.9M306.25 330L312.5 341.25M321.25 353L335 368.75M346.25 377.5L357.5 381.25M370 383.75L380.5 388.25M392 395.75L402 402M413.75 410L423.75 417M435 424.5L445 430.75M457.5 437L468.75 442.5M481.25 446.25C483.17 446.77 485.02 447.6 487 447.8C489.08 448.01 491.5 447.6 493.75 447.5M507 451.25L521.25 455M553 457L566.25 457M581.25 455.75L593.75 452.5M607 448.75L616.25 442M625 432C626.67 431.17 628.21 430.02 630 429.5C631.88 428.96 634.17 429 636.25 428.75M648.75 432.5L662.5 435M675 432.5C677 431.17 679.2 430.1 681 428.5C682.88 426.83 684.5 424.5 686.25 422.5M689.5 410L693 393.75M695.5 378.75L698 365M699.5 349.5L702 335M703.25 318.75L705.5 304.5M706.75 288.75L708.5 273.75M709.5 258.75L711.25 245M713.75 252.5L716.75 272.5M717 288.75L718.25 303.75M718.75 320L720 332.5M720.5 348.75L721.75 362.5M722.5 378.75L724.5 393.75M726.25 408.75L729.25 423.75M735 437.5C736.33 439 737.54 440.67 739 442C740.45 443.33 742.17 444.33 743.75 445.5M757.5 450L770 452M785 450L795 446.25M805.5 435.5L815 427.5M823.5 415L830 403.75M839.25 393.75C841.17 393.5 843.21 393.29 845 393C846.68 392.73 848.33 392.33 850 392M857.5 376.25L863.75 365M872.5 351.25L879.75 327M885.5 309.5C886.5 310.67 887.84 311.61 888.5 313C889.33 314.75 889.83 317.67 890.5 320M894.75 336.25L898 350.75M904.25 366.25C905.67 367.33 907.17 369.92 908.5 369.5C909.83 369.08 911 365.67 912.25 363.75M917.5 346.25C918.92 344.83 920.33 342.54 921.75 342C923.11 341.48 924.58 342.67 926 343M936.75 355L943 366.25M950 372.4C951.03 370.23 952.07 368.07 953.1 365.9C954.1 368.27 955.1 370.63 956.1 373M958 390L960.5 403.75M965.5 418.75C967.17 419.17 969.06 420.94 970.5 420C972.08 418.96 973.5 415 975 412.5M978.75 395L981.25 381.25M983 365L983.5 350M985.5 335.5L986 328.75M987.5 350L988 365M988.75 381.25L990 393.75M991.25 397.5L995 408.75M996 412.5L997.5 425M998 432.5L998.5 440"/>
<path id="A2dots" class="cv" stroke-width="3.8" d="M534.9 456.21L536.1 456.29"/>
<path id="A3" class="cv" style="stroke-linecap:round" stroke-width="3.9" d="M91.95 581.75L93.05 581.75M106.95 581.75L108.05 581.75M123.2 581.75L124.3 581.75M139.45 581.75L140.55 581.75M155.7 581.75L156.8 581.75M171.76 581.83L172.84 581.67M187.3 577.62L188.3 577.18M199.62 570L200.38 569.2M208.52 555.8L208.98 554.8M213.94 540.13L214.26 539.07M219.11 521.78L219.39 520.72M223.61 504.28L223.89 503.22M228.61 486.03L228.89 484.97M233.12 467.53L233.38 466.47M237.39 450.54L237.61 449.46M240.66 431.79L240.84 430.71M243.67 414.29L243.83 413.21M245.69 396.55L245.81 395.45M247.93 378.55L248.07 377.45M250.43 360.54L250.57 359.46M252.89 341.79L253.11 340.71M257.13 324.91L257.87 324.09M267.15 324.58L267.85 325.42M272.38 341.96L272.62 343.04M275.41 360.71L275.59 361.79M278.66 379.46L278.84 380.54M281.17 396.46L281.33 397.54M283.67 415.21L283.83 416.29M286.41 431.96L286.59 433.04M289.89 451.46L290.11 452.54M293.61 468.72L293.89 469.78M299.04 486.49L299.46 487.51M306.67 501.31L307.33 502.19M318.33 512.14L319.17 512.86M327.58 519.65L328.42 520.35M339.03 529.72L339.97 530.28M353.96 535.9L355.04 536.1M371.2 535.93L372.3 536.07M386.47 539.84L387.53 540.16M400.2 544.99L401.3 545.01M412.5 540.27L413.5 540.73M422.08 554.65L422.92 555.35M433.76 558.01L434.74 558.49M445.76 566.49L446.74 567.01M459.97 571.84L461.03 572.16M475.71 575.65L476.79 575.85M491.95 577.93L493.05 578.07M509.45 579.95L510.55 580.05M526.95 581.25L528.05 581.25M554.95 580.02L556.05 579.98M572.7 580.02L573.8 579.98M588.96 578.83L590.04 578.67M606.47 575.16L607.53 574.84M620.74 569.45L621.76 569.05M634.97 563.9L636.03 563.6M649.95 561L651.05 561M665.05 563.68L666.15 563.72M680.14 562.4L681.06 561.8M689.39 548.91L689.81 547.89M693.31 531.54L693.49 530.46M695.66 513.04L695.84 511.96M699.33 495.52L699.67 494.48M706.11 480.53L706.39 479.47M708.2 463.05L708.3 461.95M709.46 444.8L709.54 443.7M710.71 426.8L710.79 425.7M711.96 408.8L712.04 407.7M712.84 390.36L713.66 389.64M716.19 403.95L716.31 405.05M716.98 421.95L717.02 423.05M717.48 439.95L717.52 441.05M717.98 458.2L718.02 459.3M718.72 476.45L718.78 477.55M719.97 494.45L720.03 495.55M720.72 512.45L720.78 513.55M722.24 531.25L722.36 532.35M724.59 549.26L724.81 550.34M729.32 567.43L729.88 568.37M740.9 577.27L741.9 577.73M757.65 581.19L758.75 581.31M775.95 581.28L777.05 581.22M792.67 579.56L793.73 579.24M805.74 572.31L806.66 571.69M818.28 562.84L818.92 561.96M825.31 546.01L825.69 544.99M831.32 527.84L832.18 527.16M842.97 531.65L844.03 531.35M853.45 521.71L854.05 520.79M860.77 505L861.23 504M868.32 489.27L868.68 488.23M872.88 471.04L873.12 469.96M876.16 453.54L876.34 452.46M879.12 435.03L879.38 433.97M883.71 420.38L884.79 420.62M887.17 435.71L887.33 436.79M889.19 453.7L889.31 454.8M891.19 471.95L891.31 473.05M892.93 489.45L893.07 490.55M895.41 507.46L895.59 508.54M899.07 525.23L899.43 526.27M906.25 541.39L907.35 541.41M912.83 526.52L913.17 525.48M916.74 509.45L917.76 509.05M925.24 520.77L925.76 521.73M932.27 537L932.73 538M939.97 553.15L940.83 553.85M949.03 551.58L949.57 550.62M952.38 533.04L952.62 531.96M954.8 525.24L955.2 526.26M956.92 543.26L957.08 544.34M959.65 560.98L960.35 561.82M970.25 560.63L970.95 559.77M975.49 542.94L975.71 541.86M977.93 524.8L978.07 523.7M979.95 506.8L980.05 505.7M981.21 489.3L981.29 488.2M982.47 471.05L982.53 469.95M983.47 453.55L983.53 452.45M984.15 435.54L984.35 434.46M986.21 438.2L986.29 439.3M985.99 456.45L986.01 457.55M986.74 474.95L986.76 476.05M986.74 492.7L986.76 493.8M987.24 510.7L987.26 511.8M987.49 528.95L987.51 530.05M987.89 546.35L987.91 547.45M988 564.19L988.4 565.21M998.34 574.33L999.16 575.07M992 568.1C993.83 565.83 996.33 561.4 997.5 561.3C998.67 561.2 998.5 565.43 999 567.5"/>
<path id="A4" class="cv" style="stroke-linecap:butt" stroke-width="4.0" d="M108.75 705L121.25 705.75M139.5 706.25L152.5 706.75M168.75 706.75L182.3 705.5M196.4 699C198.27 697.33 200.29 695.83 202 694C203.75 692.13 205.27 689.87 206.9 687.8M214 670L220.2 652.5M222.7 643.7L228 627.5M234.8 605.6L239.8 590.1M246.4 567.9L251.8 552.2M258.75 528.75L265 512.5M276.25 495C278.17 494.33 279.97 492.92 282 493C284.08 493.08 286.5 494.67 288.75 495.5M301.25 512.5L307.5 524M317 540L325 552.5M338.75 567.5L357 587.5M368.75 600.75L379.5 611.25M391.25 622.5L400.75 631.75M415.5 645.5L427 656.25M441.25 667L452.5 675M468.75 684.5L480 690M500 695.75L512.5 700M531.25 703.75L536.25 705M557 702.5L572.5 703.75M592.5 702.5L607.5 700.5M626.25 693.75L637.5 688M655.5 685.7L669 689.6M685.8 684.2C686.87 682.13 688.12 680.15 689 678C689.95 675.67 690.67 672.8 691.5 670.2M695.8 647.5L698.4 632M705.5 610.3L708 594.3M710.5 572.6C710.93 566.63 711.27 560.5 711.8 554.7C712.32 549.05 713.07 543.43 713.7 537.8M715.3 539.2L717.1 549.3M717.4 557.2L718.9 572.6M720 594.2L721.3 610.3M722.5 632.5L724.4 648M726.2 670.8L729.5 686.2M739 702.5C741.33 703.67 743.54 705.13 746 706C748.5 706.88 751.33 707.2 754 707.8M774.3 705.4L787.2 701.1M800.2 685.8C802.13 685.3 804.04 684.67 806 684.3C807.97 683.93 810 683.83 812 683.6M823 660L829.25 648.75M847.5 637.5L854.25 623.75M864 606.8L874.2 589.5M877.1 579.8C878.4 577.03 879.43 573.03 881 571.5C882.33 570.2 884.67 570.9 886.5 570.6M893.7 593.8L898 608.8M904.4 632.3C905.53 633.6 906.55 637.25 907.8 636.2C909.05 635.15 910.53 629.4 911.9 626M921.4 635.3L930.2 643.4M945.8 656.3L951.8 641.4M957 662.6C958.07 665.97 959.03 670.7 960.2 672.7C960.91 673.92 962.73 673.97 964 674.6M974.2 655.7L978.5 641.5M983.4 625L985.6 619.8M988.4 640C989.37 644.17 990.57 648.85 991.3 652.5C991.93 655.61 992.36 658.76 992.8 661.9C993.32 665.55 993.88 670.23 994.4 674.4C994.92 678.56 995.41 682.73 995.9 686.9C996.43 691.42 997.03 696.63 997.6 701.5"/>
<path id="A4dots" class="cv" stroke-width="3.9" d="M96.8 705L98.2 705M129.3 705.73L130.7 705.77M160.55 706.75L161.95 706.75M188.76 702.89L190.04 702.31M210.74 679.65L211.26 678.35M230.99 617.07L231.41 615.73M243.4 578.97L243.8 577.63M255.1 541.67L255.5 540.33M269.62 504.34L270.38 503.16M295.34 502.44L296.16 503.56M312.14 531.9L312.86 533.1M331.53 559.48L332.47 560.52M363.29 593.98L364.21 595.02M385.74 617.02L386.76 617.98M407.49 637.77L408.51 638.73M433.94 661.33L435.06 662.17M459.4 679.15L460.6 679.85M489.33 692.31L490.67 692.69M521.31 702.36L522.69 702.64M580.55 703.79L581.95 703.71M618.09 696.49L619.41 696.01M646.11 685.99L647.49 685.81M678.33 690.31L679.67 689.89M694.07 659.29L694.33 657.91M700.48 620.97L700.92 619.63M709.22 584L709.38 582.6M719.46 582.2L719.54 583.6M721.96 620.7L722.04 622.1M724.94 658.8L725.06 660.2M733.15 695.7L733.85 696.9M764.1 707.18L765.5 707.02M794.05 696.83L794.95 695.77M817.7 672.63L818.3 671.37M838.65 644.87L839.85 644.13M857.65 614.36L858.35 613.14M890.49 581.63L890.91 582.97M900.82 620.32L901.18 621.68M916.8 625.31L917.8 626.29M937.76 650.25L938.84 651.15M954.53 650.82L954.87 652.18M969.97 667.22L970.63 665.98M981 634.97L981.4 633.63M987.2 631.61L987.4 632.99"/>
</g>
<g id="leaders">
<path class="ld" stroke-width="2.2" d="M257 71.25L257 90"/>
<path class="ld" stroke-width="2.2" d="M207.5 190L217 220.5"/>
<path class="ld" stroke-width="2.2" d="M412.25 243.75L412.25 266"/>
<path class="ld" stroke-width="2.2" d="M432.25 257L432.25 280"/>
<path class="ld" stroke-width="2.2" d="M709 99.25L710.5 122.5"/>
<path class="ld" stroke-width="2.2" d="M649.5 258.75L649.5 285"/>
<path class="ld" stroke-width="2.2" d="M885.5 152.5L885.5 193.75"/>
<path class="ld" stroke-width="2.2" d="M985 171.75L985 207.5"/>
<path class="ld" stroke-width="2.2" d="M861.75 206.25L861.75 240"/>
<path class="ld" stroke-width="2.2" d="M921.25 202L921.25 230"/>
<path class="ld" stroke-width="2.2" d="M839 233.75L839 261.25"/>
<path class="ld" stroke-width="2.2" d="M953.5 229.25L953.5 255"/>
<path class="ld" stroke-width="2.2" d="M678 471.25L700 493"/>
<path class="ld" stroke-width="2.2" d="M802.25 636.25L802.25 685"/>
<path class="ld" stroke-width="2.2" d="M915 603L915 623.75"/>
<path class="ld" stroke-width="2.2" d="M735.5 930.5L756.25 964.5"/>
<path class="ld" stroke-width="2.2" d="M722.5 994.5L743.75 1021.25"/>
<path class="ld" stroke-width="2.2" d="M875.5 948L898 981"/>
<path class="ld" stroke-width="2.2" d="M957.9 942.7L984.1 987"/>
<path class="ld" stroke-width="2.2" d="M683.75 1149.5L700 1188"/>
<path class="ld" stroke-width="2.2" d="M665 1234.5L700 1247"/>
<path class="ld" stroke-width="2.2" d="M733.2 1221.1L711.7 1240.1"/>
<path class="ld" stroke-width="2.2" d="M840.8 1262.9L840.8 1292.3"/>
<path class="ld" stroke-width="2.2" d="M692 1379.5L711 1398"/>
<path class="ld" stroke-width="2.2" d="M753.8 1376.2L739.6 1401.5"/>
<path class="ld" stroke-width="2.2" d="M698 1508.25L710 1537"/>
<path class="ld" stroke-width="2.2" d="M756.3 1509.5L744.3 1538"/>
</g>
<g id="labels">
<text style="stroke-width:0.6" font-size="73.62" transform="matrix(0.9761 0 0 1 135.05 119.2)">A</text>
<text style="stroke-width:0.7" font-size="73.19" transform="matrix(0.9792 0 0 1 129.62 957.75)">B</text>
<text style="stroke-width:0.6" font-size="27" transform="matrix(0.9900 0 0 1 225.05 58.86)">3436</text>
<text style="stroke-width:0.6" font-size="27" transform="matrix(0.9900 0 0 1 158.18 181.99)">3575</text>
<text style="stroke-width:0.6" font-size="27" transform="matrix(0.9900 0 0 1 356.92 236.24)">2917</text>
<text style="stroke-width:0.6" font-size="27" transform="matrix(0.9900 0 0 1 426.78 250.49)">2850</text>
<text style="stroke-width:0.6" font-size="27" transform="matrix(0.9900 0 0 1 681.02 88.37)">1372</text>
<text style="stroke-width:0.6" font-size="27" transform="matrix(0.9900 0 0 1 616.39 245.62)">1575</text>
<text style="stroke-width:0.6" font-size="27" transform="matrix(0.9900 0 0 1 862.47 143.12)">782</text>
<text style="stroke-width:0.6" font-size="27" transform="matrix(0.9900 0 0 1 969.5 160.74)">449</text>
<text style="stroke-width:0.6" font-size="27" transform="matrix(0.9900 0 0 1 831.73 195.62)">861</text>
<text style="stroke-width:0.6" font-size="27" transform="matrix(0.9900 0 0 1 899.22 190.87)">665</text>
<text style="stroke-width:0.6" font-size="27" transform="matrix(0.9900 0 0 1 794.47 228.24)">944</text>
<text style="stroke-width:0.6" font-size="27" transform="matrix(0.9900 0 0 1 931.6 217.62)">556</text>
<text style="stroke-width:0.6" font-size="27" transform="matrix(0.9900 0 0 1 613.27 476.61)">1403</text>
<text style="stroke-width:0.6" font-size="27" transform="matrix(0.9900 0 0 1 760.02 625.36)">1060</text>
<text style="stroke-width:0.6" font-size="27" transform="matrix(0.9900 0 0 1 897.09 590.36)">685</text>
<text style="stroke-width:0.8" font-size="32.4" transform="matrix(0.9950 0 0 1 52.9 775.8)">4000</text>
<text style="stroke-width:0.8" font-size="32.4" transform="matrix(0.9950 0 0 1 202.12 775.8)">3500</text>
<text style="stroke-width:0.8" font-size="32.4" transform="matrix(0.9950 0 0 1 350.87 775.8)">3000</text>
<text style="stroke-width:0.8" font-size="32.4" transform="matrix(0.9950 0 0 1 635.35 775.8)">1500</text>
<text style="stroke-width:0.8" font-size="32.4" transform="matrix(0.9950 0 0 1 784.72 775.8)">1000</text>
<text style="stroke-width:0.8" font-size="32.4" transform="matrix(0.9950 0 0 1 942.54 775.8)">500</text>
<text class="nu" style="stroke-width:0.3" font-size="37.66" transform="matrix(1.0498 0 0 1 503.65 823.67)">ν</text>
<text style="stroke-width:0.3" font-size="36.28" transform="matrix(1.0835 0 0 1 532.04 823.53)">(cm</text>
<text style="stroke-width:0.3" font-size="21.01" transform="matrix(0.9808 0 0 1 598.73 802.35)">-1</text>
<text style="stroke-width:0.3" font-size="36.28" transform="matrix(0.9057 0 0 1 621.35 823.53)">)</text>
<text style="stroke-width:0.7" font-size="33" transform="matrix(0.9850 0 0 1 509.83 1082.83)">298 K</text>
<text style="stroke-width:0.7" font-size="33" transform="matrix(0.9850 0 0 1 510.32 1212.83)">473 K</text>
<text style="stroke-width:0.7" font-size="33" transform="matrix(0.9850 0 0 1 510.99 1335.33)">573 K</text>
<text style="stroke-width:0.7" font-size="33" transform="matrix(0.9850 0 0 1 510.58 1463.96)">673 K</text>
<text style="stroke-width:0.7" font-size="33" transform="matrix(0.9850 0 0 1 510.33 1561.46)">798 K</text>
<text style="stroke-width:0.6" font-size="23.9" transform="matrix(0.9850 0 0 1 687.04 923.72)">1358</text>
<text style="stroke-width:0.6" font-size="23.9" transform="matrix(0.9850 0 0 1 669.67 983.97)">1403</text>
<text style="stroke-width:0.6" font-size="23.9" transform="matrix(0.9850 0 0 1 834.82 940.35)">790</text>
<text style="stroke-width:0.6" font-size="23.9" transform="matrix(0.9850 0 0 1 922.37 935)">449</text>
<text style="stroke-width:0.6" font-size="23.9" transform="matrix(0.9850 0 0 1 642.92 1138.1)">1565</text>
<text style="stroke-width:0.6" font-size="23.9" transform="matrix(0.9850 0 0 1 602.42 1251.22)">1575</text>
<text style="stroke-width:0.6" font-size="23.9" transform="matrix(0.9850 0 0 1 731.28 1227.65)">1539</text>
<text style="stroke-width:0.6" font-size="23.9" transform="matrix(0.9850 0 0 1 808.97 1250.4)">1025</text>
<text style="stroke-width:0.6" font-size="23.9" transform="matrix(0.9850 0 0 1 636.29 1380.85)">1535</text>
<text style="stroke-width:0.6" font-size="23.9" transform="matrix(0.9850 0 0 1 752.37 1369.7)">1425</text>
<text style="stroke-width:0.6" font-size="23.9" transform="matrix(0.9850 0 0 1 658.53 1496.72)">1532</text>
<text style="stroke-width:0.6" font-size="23.9" transform="matrix(0.9850 0 0 1 747.15 1501.09)">1411</text>
<text style="stroke-width:0.8" font-size="32.4" transform="matrix(0.9950 0 0 1 56.53 1615.55)">4000</text>
<text style="stroke-width:0.8" font-size="32.4" transform="matrix(0.9950 0 0 1 181.99 1615.55)">3500</text>
<text style="stroke-width:0.8" font-size="32.4" transform="matrix(0.9950 0 0 1 307.99 1615.55)">3000</text>
<text style="stroke-width:0.8" font-size="32.4" transform="matrix(0.9950 0 0 1 433.29 1615.55)">2500</text>
<text style="stroke-width:0.8" font-size="32.4" transform="matrix(0.9950 0 0 1 558.42 1615.55)">2000</text>
<text style="stroke-width:0.8" font-size="32.4" transform="matrix(0.9950 0 0 1 685.35 1615.55)">1500</text>
<text style="stroke-width:0.8" font-size="32.4" transform="matrix(0.9950 0 0 1 810.72 1615.55)">1000</text>
<text style="stroke-width:0.8" font-size="32.4" transform="matrix(0.9950 0 0 1 943.59 1615.55)">500</text>
<text class="nu" style="stroke-width:0.3" font-size="37.02" transform="matrix(1.0428 0 0 1 506.65 1672.18)">ν</text>
<text style="stroke-width:0.3" font-size="36.01" transform="matrix(1.0834 0 0 1 534.61 1672.04)">(cm</text>
<text style="stroke-width:0.3" font-size="22.03" transform="matrix(0.9384 0 0 1 600.12 1651.05)">-1</text>
<text style="stroke-width:0.3" font-size="36.01" transform="matrix(0.9124 0 0 1 622.75 1672.04)">)</text>
</g>
</svg>
</body>
</html>
